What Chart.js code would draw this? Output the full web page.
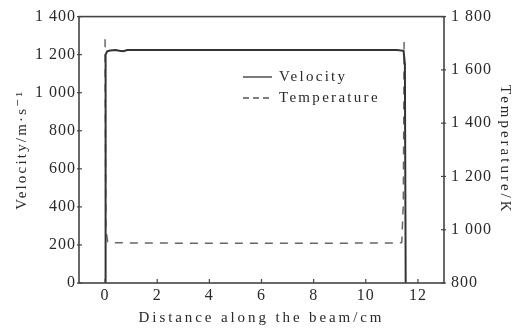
<!DOCTYPE html>
<html>
<head>
<meta charset="utf-8">
<script src="https://cdn.jsdelivr.net/npm/chart.js@4.4.0/dist/chart.umd.min.js"></script>
<style>
  body { margin: 0; background: #fff; }
  canvas { display: block; }
</style>
</head>
<body>
<canvas id="chart" width="518" height="329"></canvas>
<script>
// distance along the beam (cm) and velocity (m/s)
const velX = [0, 0.02, 0.08, 0.2, 0.4, 0.55, 0.7, 0.85, 1.0, 2, 4, 6, 8, 10, 11.2, 11.45, 11.5, 11.53];
const velY = [0, 1200, 1218, 1222, 1225, 1221, 1218, 1224, 1225, 1225, 1225, 1225, 1225, 1225, 1225, 1220, 1150, 0];

// temperature (K)
const tempX = [0, 0.03, 0.1, 0.2, 2, 4, 6, 8, 10, 11.2, 11.38, 11.44, 11.47];
const tempY = [1715, 1000, 955, 951, 950, 949, 949, 949, 950, 950, 952, 1100, 1705];

const xTicks = [0, 2, 4, 6, 8, 10, 12];
const velTicks = [0, 200, 400, 600, 800, 1000, 1200, 1400];
const tempTicks = [800, 1000, 1200, 1400, 1600, 1800];

const serif = "'Liberation Serif', 'DejaVu Serif', serif";
const ink = '#2a2a2a';

// letter spacing of the axis titles (the scan is set wide)
const titleSpacing = { x: '2.9px', y: '2.2px', y2: '3px' };

function fmt(v) {
  return v >= 1000 ? Math.floor(v / 1000) + ' ' + String(v % 1000).padStart(3, '0') : String(v);
}

function pts(xs, ys) {
  return xs.map((x, i) => ({ x: x, y: ys[i] }));
}

const spacingPlugin = {
  id: 'spacing',
  beforeDraw(chart) {
    Object.keys(titleSpacing).forEach(id => {
      const s = chart.scales[id];
      if (!s || s._spaced) return;
      const dt = s.drawTitle, dl = s.drawLabels;
      s.drawTitle = function () {
        this.ctx.letterSpacing = titleSpacing[id];
        dt.apply(this, arguments);
        this.ctx.letterSpacing = '0px';
      };
      s.drawLabels = function () {
        this.ctx.letterSpacing = '1px';
        dl.apply(this, arguments);
        this.ctx.letterSpacing = '0px';
      };
      s._spaced = true;
    });
  }
};

// frame, inward ticks and the legend inside the plot
const framePlugin = {
  id: 'frame',
  afterDraw(chart) {
    const ctx = chart.ctx;
    const a = chart.chartArea;
    ctx.save();
    ctx.strokeStyle = '#444';
    ctx.lineWidth = 1.6;
    ctx.strokeRect(a.left, a.top, a.right - a.left, a.bottom - a.top);
    ctx.lineWidth = 1.2;
    const sx = chart.scales.x, sy = chart.scales.y, sy2 = chart.scales.y2;
    xTicks.forEach(t => {
      const p = sx.getPixelForValue(t);
      ctx.beginPath(); ctx.moveTo(p, a.bottom); ctx.lineTo(p, a.bottom - 4); ctx.stroke();
    });
    velTicks.forEach(t => {
      const p = sy.getPixelForValue(t);
      ctx.beginPath(); ctx.moveTo(a.left - 2, p); ctx.lineTo(a.left + 3, p); ctx.stroke();
    });
    tempTicks.forEach(t => {
      const p = sy2.getPixelForValue(t);
      ctx.beginPath(); ctx.moveTo(a.right - 3, p); ctx.lineTo(a.right + 2, p); ctx.stroke();
    });

    // legend
    const lx = 243, ly = 77;
    ctx.strokeStyle = '#333';
    ctx.lineWidth = 1.3;
    ctx.beginPath(); ctx.moveTo(lx, ly); ctx.lineTo(lx + 29, ly); ctx.stroke();
    ctx.strokeStyle = '#555';
    ctx.setLineDash([6, 4]);
    ctx.beginPath(); ctx.moveTo(lx, ly + 21); ctx.lineTo(lx + 29, ly + 21); ctx.stroke();
    ctx.setLineDash([]);
    ctx.fillStyle = ink;
    ctx.font = '15px ' + serif;
    ctx.letterSpacing = '2.3px';
    ctx.textBaseline = 'middle';
    ctx.fillText('Velocity', lx + 36, ly);
    ctx.fillText('Temperature', lx + 36, ly + 21);
    ctx.letterSpacing = '0px';
    ctx.restore();
  }
};

new Chart(document.getElementById('chart'), {
  type: 'line',
  data: {
    datasets: [
      {
        label: 'Velocity',
        data: pts(velX, velY),
        yAxisID: 'y',
        borderColor: '#333',
        borderWidth: 2,
        pointRadius: 0,
        tension: 0
      },
      {
        label: 'Temperature',
        data: pts(tempX, tempY),
        yAxisID: 'y2',
        borderColor: '#666',
        borderWidth: 1.5,
        borderDash: [8, 7],
        pointRadius: 0,
        tension: 0
      }
    ]
  },
  options: {
    responsive: false,
    animation: false,
    layout: { padding: { top: 16, bottom: 0, left: 0, right: 0 } },
    plugins: { legend: { display: false }, tooltip: { enabled: false } },
    scales: {
      x: {
        type: 'linear',
        min: -1,
        max: 13,
        afterBuildTicks: s => { s.ticks = xTicks.map(v => ({ value: v })); },
        afterFit: s => { s.height = 46; },
        grid: { display: false, drawTicks: false },
        border: { display: false },
        ticks: { color: ink, padding: 3, font: { family: serif, size: 16 } },
        title: {
          display: true,
          text: 'Distance along the beam/cm',
          color: ink,
          padding: { top: 0, bottom: 2 },
          font: { family: serif, size: 15 }
        }
      },
      y: {
        position: 'left',
        min: 0,
        max: 1400,
        afterBuildTicks: s => { s.ticks = velTicks.map(v => ({ value: v })); },
        afterFit: s => { s.width = 79; },
        grid: { display: false, drawTicks: false },
        border: { display: false },
        ticks: { color: ink, padding: 3, font: { family: serif, size: 16 }, callback: v => fmt(v) },
        title: {
          display: true,
          text: 'Velocity/m\u00B7s\u207B\u00B9',
          color: ink,
          padding: { top: 13, bottom: 0 },
          font: { family: serif, size: 15 }
        }
      },
      y2: {
        position: 'right',
        min: 800,
        max: 1800,
        afterBuildTicks: s => { s.ticks = tempTicks.map(v => ({ value: v })); },
        afterFit: s => { s.width = 74; },
        grid: { display: false, drawTicks: false },
        border: { display: false },
        ticks: { color: ink, padding: 7, font: { family: serif, size: 16 }, callback: v => fmt(v) },
        title: {
          display: true,
          text: 'Temperature/K',
          color: ink,
          padding: { top: 4, bottom: 0 },
          font: { family: serif, size: 15 }
        }
      }
    }
  },
  plugins: [spacingPlugin, framePlugin]
});
</script>
</body>
</html>
